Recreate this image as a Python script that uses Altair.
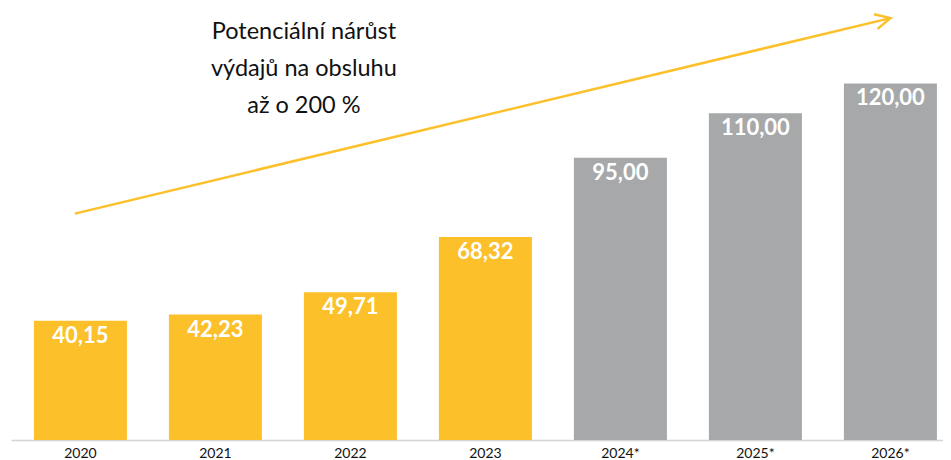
import altair as alt
import pandas as pd

years = ["2020", "2021", "2022", "2023", "2024*", "2025*", "2026*"]
values = [40.15, 42.23, 49.71, 68.32, 95.00, 110.00, 120.00]
kinds = ["skutečnost", "skutečnost", "skutečnost", "skutečnost", "odhad", "odhad", "odhad"]

arrow_from = ["2020"]
arrow_to = ["2026*"]
arrow_start_value = [76.2]
arrow_end_value = [142.0]

note_year = ["2022"]
note_value = [135.0]
note_text = ["Potenciální nárůst\nvýdajů na obsluhu\naž o 200 %"]

YELLOW = "#FCC02A"
GREY = "#A6A8A9"
FONT = "Lato"

df = pd.DataFrame({"year": years, "value": values, "kind": kinds})
df["label"] = [f"{v:.2f}".replace(".", ",") for v in values]

arrow_df = pd.DataFrame({"x1": arrow_from, "x2": arrow_to,
                         "y1": arrow_start_value, "y2": arrow_end_value})
note_df = pd.DataFrame({"year": note_year, "value": note_value, "text": note_text})

xscale = alt.Scale(domain=years, paddingInner=0.311, paddingOuter=0.1074, align=0.79)
yscale = alt.Scale(domain=[0, 145.4], nice=False, zero=True)

x_enc = alt.X("year:N", scale=xscale, sort=years, title=None,
              axis=alt.Axis(labelAngle=0, ticks=False, domain=True, domainColor="#D4D4D4",
                            domainWidth=1.5, labelFontSize=14, labelColor="#111111",
                            labelFont=FONT, labelPadding=6, grid=False))
y_enc = alt.Y("value:Q", scale=yscale, axis=None)

bars = alt.Chart(df).mark_bar().encode(
    x=x_enc,
    y=y_enc,
    color=alt.Color("kind:N", scale=alt.Scale(domain=["skutečnost", "odhad"], range=[YELLOW, GREY]),
                    legend=None),
)

labels = alt.Chart(df).mark_text(baseline="top", dy=5, color="white", font=FONT,
                                 fontSize=22, fontWeight="bold").encode(
    x=alt.X("year:N", scale=xscale, sort=years),
    y=alt.Y("value:Q", scale=yscale),
    text="label:N",
)

shaft = alt.Chart(arrow_df).mark_rule(color=YELLOW, strokeWidth=2.5).encode(
    x=alt.X("x1:N", scale=xscale, bandPosition=0.44),
    x2=alt.X2("x2:N", bandPosition=0.5),
    y=alt.Y("y1:Q", scale=yscale),
    y2="y2:Q",
)

head = alt.Chart(arrow_df).mark_point(shape="M-1,-0.5L0,0L-1,0.5", filled=False, color=YELLOW,
                                      strokeWidth=2.5, size=900, angle=346.5, opacity=1,
                                      strokeJoin="miter").encode(
    x=alt.X("x2:N", scale=xscale, bandPosition=0.5),
    y=alt.Y("y2:Q", scale=yscale),
)

note = alt.Chart(note_df).mark_text(align="center", baseline="alphabetic", lineBreak="\n",
                                    lineHeight=37, font=FONT, fontSize=23.5,
                                    color="#111111").encode(
    x=alt.X("year:N", scale=xscale, bandPosition=0),
    y=alt.Y("value:Q", scale=yscale),
    text="text:N",
)

chart = alt.layer(bars, labels, shaft, head, note).properties(
    width=932, height=432,
    autosize=alt.AutoSizeParams(type="none"),
    padding={"left": 3, "right": 0, "top": 0, "bottom": 20},
    background="white",
).configure_view(stroke=None)

chart.save("out.html", embed_options={"renderer": "svg", "actions": False})
